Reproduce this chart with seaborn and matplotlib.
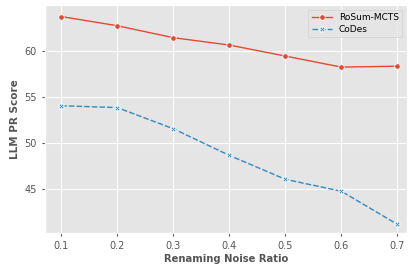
import pandas as pd
import matplotlib.pyplot as plt
import seaborn as sns

# %% values
noise_ratio = [0.1, 0.2, 0.3, 0.4, 0.5, 0.6, 0.7]
rosum_mcts = [63.8, 62.8, 61.5, 60.7, 59.5, 58.3, 58.4]
codes = [54.1, 53.9, 51.6, 48.7, 46.1, 44.8, 41.2]
methods = ['RoSum-MCTS', 'CoDes']

df = pd.concat([
    pd.DataFrame({'ratio': noise_ratio, 'score': rosum_mcts, 'method': methods[0]}),
    pd.DataFrame({'ratio': noise_ratio, 'score': codes, 'method': methods[1]}),
])

# %% plot
plt.style.use('ggplot')
fig = plt.figure(figsize=(4.09, 2.65), dpi=100)
ax = fig.add_axes([0.110, 0.121, 0.885, 0.860])

sns.lineplot(data=df, x='ratio', y='score', hue='method', style='method',
             palette=['#E24A33', '#348ABD'], markers=['o', 'X'],
             dashes=[(None, None), (4, 1.5)], markersize=4, linewidth=1,
             markeredgecolor='white', markeredgewidth=0.6, ax=ax)

ax.set_xlim(0.071, 0.717)
ax.set_ylim(40.27, 65.05)
ax.set_xticks(noise_ratio)
ax.set_yticks([45, 50, 55, 60])
ax.tick_params(labelsize=7, colors='#555555', length=2.5)
ax.set_xlabel('Renaming Noise Ratio', fontsize=7.2, fontweight='bold', color='#555555', labelpad=2)
ax.set_ylabel('LLM PR Score', fontsize=7.5, fontweight='bold', color='#555555', labelpad=3)

leg = ax.legend(loc='upper right', fontsize=6.5, frameon=True, handlelength=2.2,
                borderpad=0.4, labelspacing=0.3)
leg.get_frame().set_facecolor('#E5E5E5')
leg.get_frame().set_edgecolor('#CCCCCC')

plt.savefig('out.png', dpi=100)
